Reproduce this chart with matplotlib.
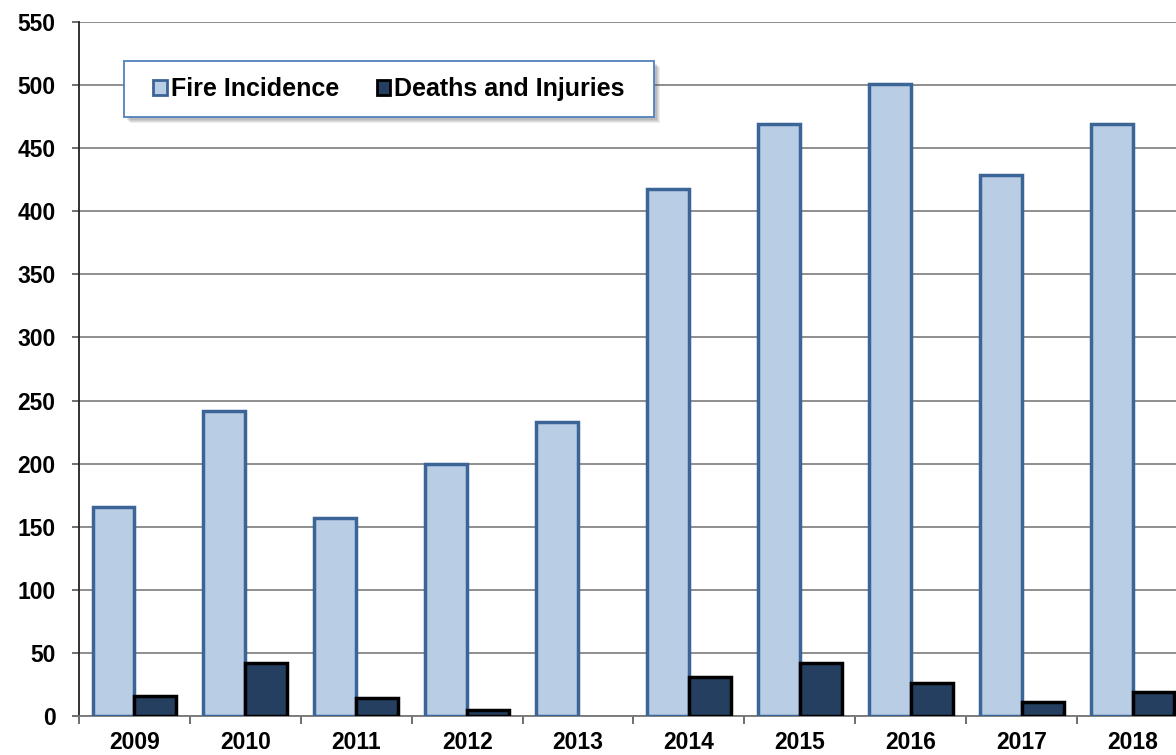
import matplotlib.pyplot as plt
from matplotlib.patches import Rectangle
import numpy as np

plt.rcParams['font.family'] = ['Liberation Sans', 'DejaVu Sans']
plt.rcParams['font.weight'] = 'bold'

years = ['2009', '2010', '2011', '2012', '2013', '2014', '2015', '2016', '2017', '2018']
fire_incidence = [166, 242, 157, 200, 233, 418, 469, 501, 429, 469]
deaths_injuries = [16, 42, 14, 5, 0, 31, 42, 26, 11, 19]

W, H = 1176, 755
fig = plt.figure(figsize=(W/100, H/100), dpi=100)
ax = fig.add_axes([79/W, 39/H, 1109/W, 694/H])

x = np.arange(len(years))
w = 0.378
ax.bar(x - w/2, fire_incidence, w, color='#B9CDE5', edgecolor='#3B6597',
       linewidth=2.5, label='Fire Incidence', zorder=3)
dark = ax.bar(x + w/2, deaths_injuries, w, color='#243F60', edgecolor='black',
              linewidth=2.5, label='Deaths and Injuries', zorder=3)
# zero-height bars would still show their outline
for p, v in zip(dark, deaths_injuries):
    if v == 0:
        p.set_visible(False)

ax.set_xlim(-0.5, len(years) - 0.5)
ax.set_ylim(0, 550)
ax.set_yticks(np.arange(0, 551, 50))
ax.yaxis.grid(True, color='#868686', linewidth=1.3, zorder=0)

ax.set_xticks(x)
ax.set_xticklabels(years)
ax.set_xticks(np.arange(-0.5, len(years)), minor=True)
ax.tick_params(axis='x', which='major', length=0, pad=11, labelsize=16.5)
ax.tick_params(axis='x', which='minor', length=6, width=1.2, color='#555555', direction='out')
ax.tick_params(axis='y', length=5, width=1.2, color='#555555', labelsize=16.5, pad=12)

for s in ['top', 'right']:
    ax.spines[s].set_visible(False)
ax.spines['left'].set_color('#222222')
ax.spines['left'].set_linewidth(1.3)
ax.spines['bottom'].set_color('#777777')
ax.spines['bottom'].set_linewidth(1.3)

# legend box with a soft drop shadow, legend entries centred inside it
bx0, bx1, by0, by1 = 124, 654, 61, 117
def to_axes(px, py):
    return (px - 79) / 1109, (716 - py) / 694
x0, y1 = to_axes(bx0, by0)
x1, y0 = to_axes(bx1, by1)
for i, a in enumerate([0.10, 0.10, 0.12, 0.14]):
    off = 6 - i
    dx, dy = off / 1109, off / 694
    ax.add_patch(Rectangle((x0 + dx, y0 - dy), x1 - x0, y1 - y0, transform=ax.transAxes,
                           facecolor='#555555', edgecolor='none', alpha=a, zorder=5))
ax.add_patch(Rectangle((x0, y0), x1 - x0, y1 - y0, transform=ax.transAxes,
                       facecolor='white', edgecolor='#4F81BD', linewidth=1.3, zorder=6))

leg = ax.legend(loc='center', bbox_to_anchor=((x0 + x1) / 2, (y0 + y1) / 2), ncol=2,
                frameon=False, borderaxespad=0, borderpad=0,
                fontsize=18, handlelength=0.55, handleheight=0.55, handletextpad=0.15,
                columnspacing=1.5)
leg.set_zorder(7)
for h in leg.legend_handles:
    h.set_linewidth(2)

fig.savefig('out.png', dpi=100)
